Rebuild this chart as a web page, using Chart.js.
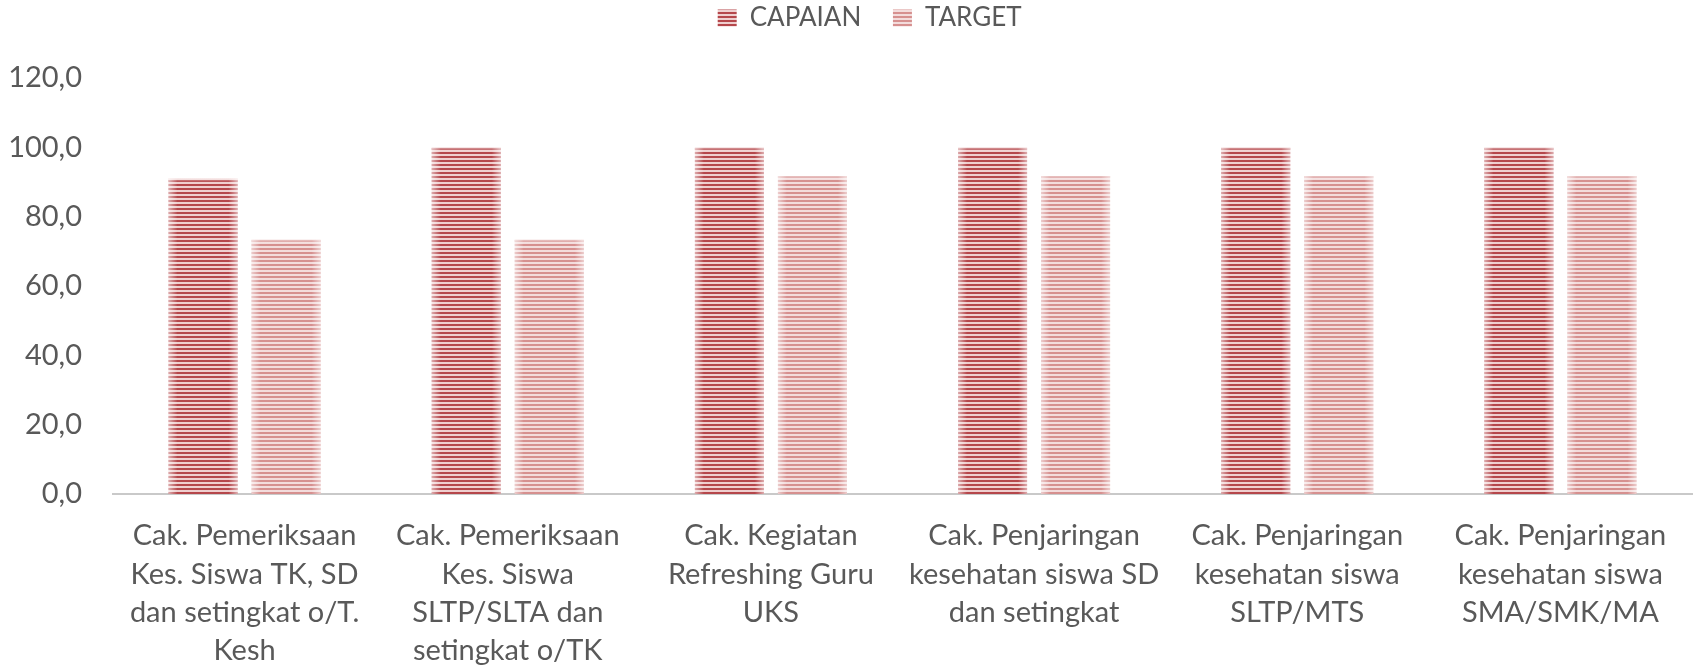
<!DOCTYPE html>
<html><head><meta charset="utf-8">
<script src="https://cdn.jsdelivr.net/npm/chart.js@4"></script>
<style>html,body{margin:0;padding:0;background:#fff}#wrap{width:1696px;height:668px}</style>
</head><body><div id="wrap"><canvas id="c" width="1696" height="668"></canvas></div>
<script>
const categories = [
  ["Cak. Pemeriksaan", "Kes. Siswa TK, SD", "dan setingkat o/T.", "Kesh"],
  ["Cak. Pemeriksaan", "Kes. Siswa", "SLTP/SLTA dan", "setingkat o/TK"],
  ["Cak. Kegiatan", "Refreshing Guru", "UKS"],
  ["Cak. Penjaringan", "kesehatan siswa SD", "dan setingkat"],
  ["Cak. Penjaringan", "kesehatan siswa", "SLTP/MTS"],
  ["Cak. Penjaringan", "kesehatan siswa", "SMA/SMK/MA"]
];
const seriesNames = ["CAPAIAN", "TARGET"];
const capaian = [91.1, 100, 100, 100, 100, 100];
const target = [73.4, 73.4, 91.7, 91.7, 91.7, 91.7];
const yTickLabels = ["0,0", "20,0", "40,0", "60,0", "80,0", "100,0", "120,0"];

function stripes(dark, light) {
  const c = document.createElement('canvas');
  c.width = 4; c.height = 4;
  const g = c.getContext('2d');
  g.fillStyle = light; g.fillRect(0, 0, 4, 4);
  g.fillStyle = dark; g.fillRect(0, 0, 4, 2);
  return g.createPattern(c, 'repeat');
}
const ctx0 = document.getElementById('c').getContext('2d');
const capPattern = stripes('#b5474b', '#efcfcf');
const tgtPattern = stripes('#d6908f', '#f3dcdc');

const glow = {
  id: 'glow',
  afterDatasetsDraw(chart) {
    const ctx = chart.ctx;
    chart.data.datasets.forEach((ds, di) => {
      const meta = chart.getDatasetMeta(di);
      meta.data.forEach(bar => {
        const p = bar.getProps(['x', 'y', 'base', 'width'], true);
        const l = p.x - p.width / 2, r = p.x + p.width / 2;
        const t = Math.min(p.y, p.base), h = Math.abs(p.base - p.y);
        const e = 9;
        ctx.save();
        let g = ctx.createLinearGradient(l, 0, l + e, 0);
        g.addColorStop(0, 'rgba(255,255,255,0.55)');
        g.addColorStop(1, 'rgba(255,255,255,0)');
        ctx.fillStyle = g; ctx.fillRect(l, t, e, h);
        g = ctx.createLinearGradient(r, 0, r - e, 0);
        g.addColorStop(0, 'rgba(255,255,255,0.55)');
        g.addColorStop(1, 'rgba(255,255,255,0)');
        ctx.fillStyle = g; ctx.fillRect(r - e, t, e, h);
        g = ctx.createLinearGradient(0, t, 0, t + 4);
        g.addColorStop(0, 'rgba(255,255,255,0.5)');
        g.addColorStop(1, 'rgba(255,255,255,0)');
        ctx.fillStyle = g; ctx.fillRect(l, t, p.width, 4);
        ctx.restore();
      });
    });
  }
};

const legendSpacer = {
  id: 'legendSpacer',
  beforeLayout(chart) {
    const lg = chart.legend;
    if (lg && !lg._patched) {
      const fit = lg.fit;
      lg.fit = function () { fit.call(this); this.height += 37; };
      lg._patched = true;
    }
  }
};

const FAMILY = "Lato, 'Open Sans', sans-serif";
const NB = '\u00a0';
new Chart(ctx0, {
  type: 'bar',
  data: {
    labels: categories,
    datasets: [
      { label: seriesNames[0], data: capaian, backgroundColor: capPattern, borderWidth: 0 },
      { label: seriesNames[1], data: target, backgroundColor: tgtPattern, borderWidth: 0 }
    ]
  },
  options: {
    responsive: false,
    animation: false,
    devicePixelRatio: 1,
    layout: { padding: { top: 0, right: 4, bottom: 0, left: 0 } },
    datasets: { bar: { categoryPercentage: 0.631, barPercentage: 0.831 } },
    plugins: {
      tooltip: { enabled: false },
      legend: {
        position: 'top',
        fullSize: false,
        labels: {
          font: { family: FAMILY, size: 26 }, color: '#595959', boxWidth: 19, boxHeight: 17, padding: 5,
          generateLabels(chart) {
            const items = Chart.defaults.plugins.legend.labels.generateLabels(chart);
            items[0].text = items[0].text + NB.repeat(4);
            items[1].text = items[1].text + NB.repeat(10);
            return items;
          }
        }
      }
    },
    scales: {
      x: {
        grid: { display: false, drawTicks: false },
        border: { display: true, color: '#c9c9c9', width: 2 },
        ticks: { font: { family: FAMILY, size: 29, lineHeight: 1.32 }, color: '#595959', padding: 23, maxRotation: 0, autoSkip: false },
        afterFit(s) { s.height = 174; }
      },
      y: {
        min: 0, max: 120,
        grid: { display: false, drawTicks: false },
        border: { display: false },
        ticks: { stepSize: 20, font: { family: FAMILY, size: 29 }, color: '#595959', padding: 31,
          callback: (v, i) => yTickLabels[i] },
        afterFit(s) { s.width = 113; }
      }
    }
  },
  plugins: [glow, legendSpacer]
});
</script></body></html>
